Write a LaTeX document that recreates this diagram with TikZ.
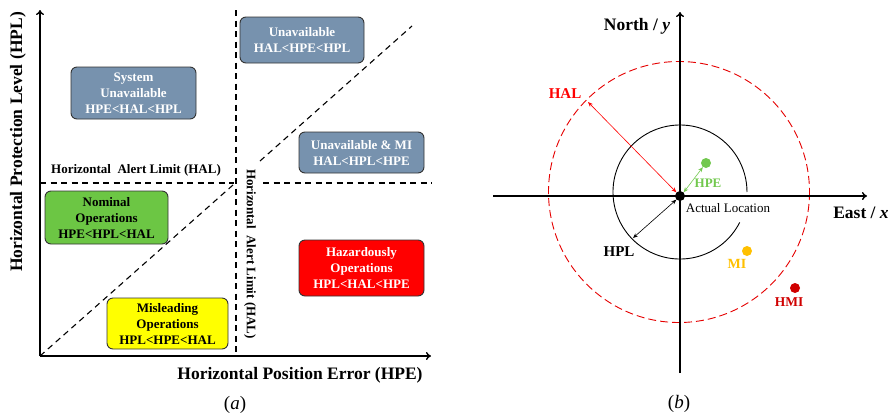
\documentclass[tikz,border=0pt]{standalone}
\usepackage{fontspec}
\setmainfont{Liberation Serif}
\usetikzlibrary{arrows.meta}
\definecolor{bgray}{HTML}{7792AE}
\definecolor{bgreen}{HTML}{6CC644}
\definecolor{byellow}{HTML}{FFFF00}
\definecolor{bred}{HTML}{FF0000}
\definecolor{hpeg}{HTML}{72C84E}
\definecolor{miorange}{HTML}{FFC000}
\definecolor{hmired}{HTML}{D00000}
\tikzset{
  regionbox/.style={draw=black!80, line width=0.9pt, rounded corners=6pt, align=center,
    font=\fontsize{13}{16}\selectfont\bfseries, inner sep=0pt},
  axisline/.style={line width=1.4pt, -{To[length=5pt,width=8pt]}},
  hdash/.style={line width=1.1pt, dash pattern=on 6pt off 4.5pt},
  lab/.style={font=\fontsize{13}{15}\selectfont\bfseries},
  biglab/.style={font=\fontsize{17.5}{20}\selectfont\bfseries},
  captext/.style={font=\fontsize{19}{22}\selectfont},
  thinarrow/.style={line width=0.6pt, {Stealth[length=5pt,width=4pt]}-{Stealth[length=5pt,width=4pt]}},
  pdot/.style={circle, inner sep=0pt, minimum size=10pt}
}
\begin{document}
\begin{tikzpicture}[x=1pt,y=-1pt]
\useasboundingbox (0,0) rectangle (889,416);
% ---------- panel (a) ----------
\coordinate (o1) at (40,356);
\coordinate (yt) at (40,10);
\coordinate (xt) at (431,356);
\draw[hdash] (236,10) -- (236,356);
\draw[hdash] (40,183) -- (234,183);
\draw[hdash] (263,183) -- (432,183);
\draw[hdash] (o1) -- (233,185);
\draw[hdash] (260,161) -- (412,26);
\draw[axisline] (o1) -- (yt);
\draw[axisline] (o1) -- (xt);

\node[regionbox, fill=bgray, text=white, minimum width=124pt, minimum height=46pt] (u1) at (302,40) {Unavailable\\HAL<HPE<HPL};
\node[regionbox, fill=bgray, text=white, minimum width=125pt, minimum height=52pt] (su) at (133.5,93) {System\\Unavailable\\HPE<HAL<HPL};
\node[regionbox, fill=bgray, text=white, minimum width=125pt, minimum height=41pt] (umi) at (361.5,152.5) {Unavailable \& MI\\HAL<HPL<HPE};
\node[regionbox, fill=bgreen, text=black, minimum width=123pt, minimum height=53pt] (nom) at (106.5,217.5) {Nominal\\Operations\\HPE<HPL<HAL};
\node[regionbox, fill=bred, text=white, minimum width=125pt, minimum height=56pt] (haz) at (361.5,268) {Hazardously\\Operations\\HPL<HAL<HPE};
\node[regionbox, fill=byellow, text=black, minimum width=121pt, minimum height=51pt] (mis) at (167.5,323.5) {Misleading\\Operations\\HPL<HPE<HAL};

\node[lab] (hal1) at (136,170) {Horizontal\ \ Alert Limit (HAL)};
\node[lab, rotate=-90] (hal2) at (250,254) {Horizontal\ \ Alert Limit (HAL)};
\node[biglab] (xl) at (300,375) {Horizontal Position Error (HPE)};
\node[biglab, rotate=90] (yl) at (18,142) {Horizontal Protection Level (HPL)};
\node[captext] (ca) at (235,405) {(\textit{a})};

% ---------- panel (b) ----------
\coordinate (o2) at (680,196);
\coordinate (nt) at (680,12);
\coordinate (nb) at (680,373);
\coordinate (ew) at (493,196);
\coordinate (ee) at (867,196);
\draw[red!90!black, line width=0.9pt, dash pattern=on 8pt off 4pt] (679,192) circle[radius=130.5];
\draw[line width=0.9pt] (680,192) ++(27:67) arc[start angle=27, end angle=360, radius=67];
\draw[axisline] (nb) -- (nt);
\draw[axisline] (ew) -- (ee);
\node[pdot, fill=black] (al) at (o2) {};
\coordinate (halend) at (588,102);
\draw[thinarrow, red] (halend) -- (al.north west);
\node[pdot, fill=hpeg] (hpe) at (706,163) {};
\draw[thinarrow, hpeg] (hpe) -- (al.north east);
\coordinate (hplend) at (633,238);
\draw[thinarrow, black] (al.south west) -- (hplend);
\node[pdot, fill=miorange] (mi) at (747,251) {};
\node[pdot, fill=hmired] (hmi) at (795,288) {};

\node[font=\fontsize{15}{18}\selectfont\bfseries, text=red] (hallab) at (565,94) {HAL};
\node[font=\fontsize{13}{15}\selectfont\bfseries, text=hpeg] (hpelab) at (708,183) {HPE};
\node[font=\fontsize{15}{18}\selectfont\bfseries] (hpllab) at (619,252) {HPL};
\node[font=\fontsize{14}{16}\selectfont\bfseries, text=miorange] (milab) at (737,264) {MI};
\node[font=\fontsize{13.5}{16}\selectfont\bfseries, text=hmired] (hmilab) at (789,302) {HMI};
\node[font=\fontsize{13}{15}\selectfont] (allab) at (728,208) {Actual Location};
\node[biglab] (north) at (637,26) {North / \textit{y}};
\node[biglab] (east) at (861,213) {East / \textit{x}};
\node[captext] (cb) at (679,404) {(\textit{b})};
\end{tikzpicture}
\end{document}
